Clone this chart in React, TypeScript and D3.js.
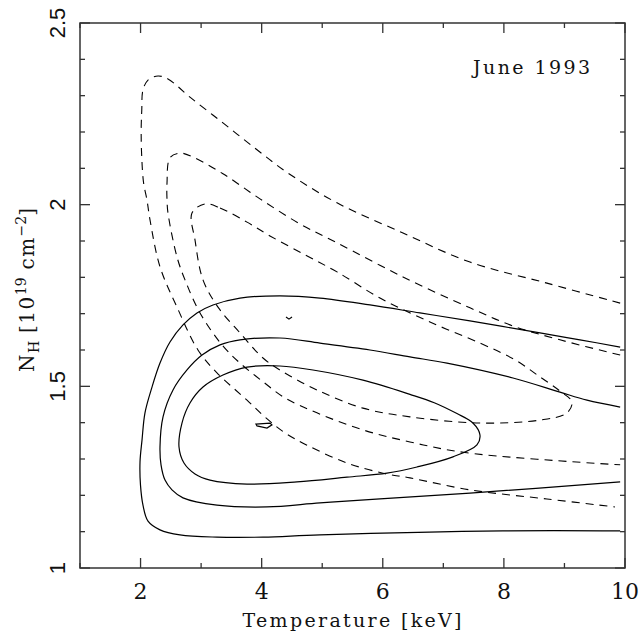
import React from "react";
import * as d3 from "d3";

type P = [number, number];

// Axis ticks
const xMajor = [2, 4, 6, 8, 10];
const xMinor = [1, 3, 5, 7, 9];
const yMajor = [1, 1.5, 2, 2.5];
const yMinor = [1.1, 1.2, 1.3, 1.4, 1.6, 1.7, 1.8, 1.9, 2.1, 2.2, 2.3, 2.4];
const yTickLabels = ["1", "1.5", "2", "2.5"];

// Solid contours (Temperature keV, NH 1e19)
const solidOuter: P[] = [
  [9.92, 1.608], [9.256, 1.628], [8.596, 1.647], [7.44, 1.68], [6.614, 1.702],
  [5.789, 1.724], [4.963, 1.743], [4.302, 1.749], [3.642, 1.743], [3.196, 1.724],
  [2.932, 1.702], [2.701, 1.669], [2.486, 1.622], [2.321, 1.564], [2.189, 1.498],
  [2.073, 1.427], [2.024, 1.352], [1.991, 1.292], [1.999, 1.228], [2.04, 1.173],
  [2.123, 1.129], [2.321, 1.105], [2.651, 1.091], [3.262, 1.085], [4.022, 1.085],
  [4.963, 1.091], [7.985, 1.102], [9.92, 1.102],
];
const solidMiddle: P[] = [
  [9.92, 1.443], [9.372, 1.462], [8.926, 1.484], [8.15, 1.523], [7.06, 1.564],
  [6.449, 1.581], [5.789, 1.6], [4.963, 1.619], [4.302, 1.633], [3.642, 1.628],
  [3.312, 1.614], [3.015, 1.586], [2.767, 1.545], [2.536, 1.49], [2.371, 1.416],
  [2.321, 1.333], [2.338, 1.284], [2.404, 1.242], [2.519, 1.215], [2.701, 1.193],
  [3.262, 1.173], [4.088, 1.168], [4.963, 1.179], [5.954, 1.19], [7.44, 1.206],
  [9.92, 1.237],
];
const solidInner: P[] = [
  [6.449, 1.478], [5.673, 1.517], [4.847, 1.545], [4.302, 1.556], [3.758, 1.553],
  [3.361, 1.531], [3.031, 1.498], [2.816, 1.454], [2.684, 1.399], [2.635, 1.333],
  [2.717, 1.289], [2.899, 1.259], [3.147, 1.242], [3.758, 1.231], [4.583, 1.237],
  [5.409, 1.25], [6.069, 1.261], [6.565, 1.278], [7.159, 1.306], [7.555, 1.339],
  [7.605, 1.366], [7.489, 1.399], [7.225, 1.425], [6.85, 1.455],
];
const solidBlob: P[] = [
  [3.906, 1.396], [4.137, 1.399], [4.17, 1.394], [4.088, 1.385], [3.923, 1.391],
];
const solidNick: P[] = [[4.402, 1.691], [4.451, 1.685], [4.501, 1.691]];

// Dashed contours
const dashedOuter: P[] = [
  [9.92, 1.729], [8.711, 1.784], [7.44, 1.842], [6.334, 1.922], [5.244, 2.005],
  [4.435, 2.087], [3.923, 2.151], [3.361, 2.225], [2.816, 2.296], [2.453, 2.346],
  [2.288, 2.354], [2.123, 2.343], [2.04, 2.316], [2.02, 2.26], [2.01, 2.2],
  [2.02, 2.13], [2.05, 2.06], [2.106, 2.013], [2.156, 1.958], [2.321, 1.829],
  [2.602, 1.718], [2.948, 1.6], [3.262, 1.537], [3.758, 1.462], [4.071, 1.413],
  [4.385, 1.372], [4.748, 1.338], [5.409, 1.289], [6.003, 1.261], [6.449, 1.248],
  [7.44, 1.215], [8.711, 1.19], [9.834, 1.168],
];
const dashedMiddle: P[] = [
  [9.92, 1.586], [8.926, 1.628], [8.15, 1.666], [7.44, 1.716], [6.334, 1.801],
  [5.244, 1.895], [4.633, 1.947], [3.972, 2.016], [3.361, 2.085], [2.866, 2.131],
  [2.651, 2.142], [2.486, 2.129], [2.437, 2.06], [2.437, 2.013], [2.453, 1.977],
  [2.602, 1.856], [2.734, 1.793], [2.982, 1.702], [3.345, 1.614], [3.642, 1.564],
  [4.005, 1.515], [4.385, 1.468], [4.913, 1.427], [5.673, 1.38], [6.449, 1.347],
  [7.39, 1.317], [9.92, 1.284],
];
const dashedInner: P[] = [
  [3.064, 2.002], [3.312, 1.991], [3.758, 1.952], [4.137, 1.914], [4.715, 1.862],
  [5.244, 1.815], [5.954, 1.743], [6.779, 1.677], [7.605, 1.619], [8.183, 1.573],
  [8.596, 1.526], [8.926, 1.487], [9.124, 1.457], [9.042, 1.427], [8.596, 1.407],
  [7.605, 1.399], [6.449, 1.416], [5.673, 1.44], [4.913, 1.49], [4.302, 1.545],
  [4.022, 1.578], [3.642, 1.647], [3.279, 1.718], [3.031, 1.793], [2.899, 1.903],
  [2.849, 1.977],
];

const W = 639;
const H = 636;
const L = 80, R = 625, T = 23, B = 568;

export default function App() {
  const x = d3.scaleLinear().domain([1, 10]).range([L, R]);
  const y = d3.scaleLinear().domain([1, 2.5]).range([B, T]);

  const open = d3.line<P>().x((d) => x(d[0])).y((d) => y(d[1])).curve(d3.curveCatmullRom.alpha(0.5));
  const closed = d3.line<P>().x((d) => x(d[0])).y((d) => y(d[1])).curve(d3.curveCatmullRomClosed.alpha(0.5));
  const lin = d3.line<P>().x((d) => x(d[0])).y((d) => y(d[1]));
  const linClosed = d3.line<P>().x((d) => x(d[0])).y((d) => y(d[1])).curve(d3.curveLinearClosed);

  const axisColor = "#333";
  const serif = "'DejaVu Serif', serif";
  const sans = "'Liberation Sans', Arial, sans-serif";

  const major = 10;
  const minor = 5;

  return (
    <svg width={W} height={H} style={{ position: "absolute", left: 0, top: 0, background: "#fff" }}>
      <rect x={0} y={0} width={W} height={H} fill="#fff" />
      {/* contours */}
      <g fill="none" stroke="#000" strokeWidth={1.2}>
        <path d={open(solidOuter) || ""} />
        <path d={open(solidMiddle) || ""} />
        <path d={closed(solidInner) || ""} />
        <path d={linClosed(solidBlob) || ""} />
        <path d={lin(solidNick) || ""} />
      </g>
      <g fill="none" stroke="#000" strokeWidth={1.1} strokeDasharray="8,6">
        <path d={open(dashedOuter) || ""} />
        <path d={open(dashedMiddle) || ""} />
        <path d={closed(dashedInner) || ""} />
      </g>
      {/* frame */}
      <rect x={L} y={T} width={R - L} height={B - T} fill="none" stroke={axisColor} strokeWidth={1.5} />
      <g stroke={axisColor} strokeWidth={1.3}>
        {xMajor.map((v) => (
          <g key={"xM" + v}>
            <line x1={x(v)} x2={x(v)} y1={B} y2={B - major} />
            <line x1={x(v)} x2={x(v)} y1={T} y2={T + major} />
          </g>
        ))}
        {xMinor.map((v) => (
          <g key={"xm" + v}>
            <line x1={x(v)} x2={x(v)} y1={B} y2={B - minor} />
            <line x1={x(v)} x2={x(v)} y1={T} y2={T + minor} />
          </g>
        ))}
        {yMajor.map((v) => (
          <g key={"yM" + v}>
            <line x1={L} x2={L + major} y1={y(v)} y2={y(v)} />
            <line x1={R} x2={R - major} y1={y(v)} y2={y(v)} />
          </g>
        ))}
        {yMinor.map((v) => (
          <g key={"ym" + v}>
            <line x1={L} x2={L + minor} y1={y(v)} y2={y(v)} />
            <line x1={R} x2={R - minor} y1={y(v)} y2={y(v)} />
          </g>
        ))}
      </g>
      {/* x tick labels */}
      <g fontFamily={serif} fontSize={22} fill="#111" textAnchor="middle">
        {xMajor.map((v) => (
          <text key={"xl" + v} x={x(v)} y={599}>
            {String(v)}
          </text>
        ))}
      </g>
      {/* y tick labels */}
      <g fontFamily={sans} fontSize={22} fill="#111" textAnchor="middle">
        {yMajor.map((v, i) => (
          <text key={"yl" + v} transform={`translate(65,${y(v)}) rotate(-90)`}>
            {yTickLabels[i]}
          </text>
        ))}
      </g>
      {/* axis titles */}
      <text x={352} y={627} fontFamily={serif} fontSize={19} fill="#111" textAnchor="middle" textLength={219} lengthAdjust="spacing">
        Temperature [keV]
      </text>
      <text transform={`translate(34,290) rotate(-90)`} fontFamily={serif} fontSize={20} fill="#111" textAnchor="middle">
        <tspan letterSpacing={1.5}>N</tspan>
        <tspan fontSize={14} dy={5}>H</tspan>
        <tspan dy={-5} letterSpacing={1.5}>{" [10"}</tspan>
        <tspan fontSize={14} dy={-8}>19</tspan>
        <tspan dy={8} letterSpacing={1.5}>{"  cm"}</tspan>
        <tspan fontSize={14} dy={-8}>−2</tspan>
        <tspan dy={8}>]</tspan>
      </text>
      <text x={473} y={74} fontFamily={serif} fontSize={19} fill="#111" textLength={117} lengthAdjust="spacing">
        June 1993
      </text>
    </svg>
  );
}
